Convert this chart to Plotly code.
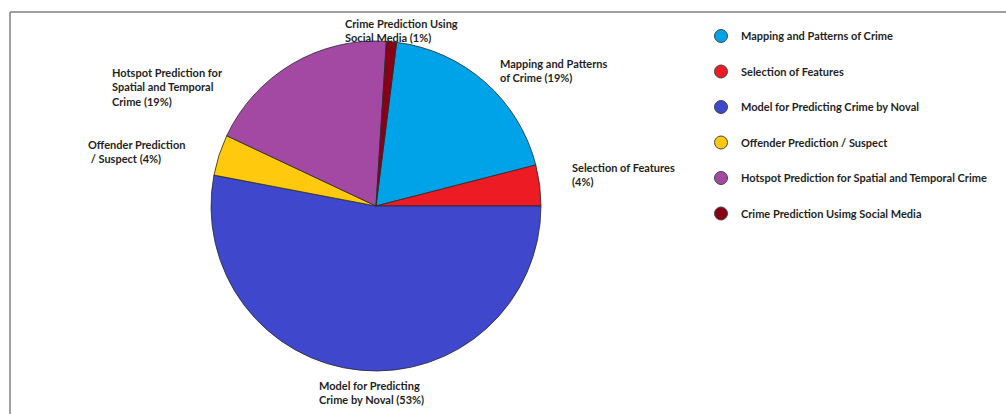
import plotly.graph_objects as go

# ---- data ----
categories = [
    "Mapping and Patterns of Crime",
    "Selection of Features",
    "Model for Predicting Crime by Noval",
    "Offender Prediction / Suspect",
    "Hotspot Prediction for Spatial and Temporal Crime",
    "Crime Prediction Using Social Media",
]
legend_labels = [
    "Mapping and Patterns of Crime",
    "Selection of Features",
    "Model for Predicting Crime by Noval",
    "Offender Prediction / Suspect",
    "Hotspot Prediction for Spatial and Temporal Crime",
    "Crime Prediction Usimg Social Media",
]
slice_labels = [
    "Mapping and Patterns<br>of Crime (19%)",
    "Selection of Features<br>(4%)",
    "Model for Predicting<br>Crime by Noval (53%)",
    "Offender Prediction<br>\u00a0/ Suspect (4%)",
    "Hotspot Prediction for<br>Spatial and Temporal<br>Crime (19%)",
    "Crime Prediction Using<br>Social Media (1%)",
]
values = [19, 4, 53, 4, 19, 1]
colors = ["#00a2e8", "#ed1c24", "#3f48cc", "#ffc90e", "#a349a4", "#880015"]

# label anchor positions in pixels (left, top)
label_pos = [(498, 55), (570, 159), (317, 377), (86, 136), (110, 64), (343, 15)]

W, H = 1006, 414
TEXT = "#1f1f1f"
FONT = "Lato"

fig = go.Figure()

cx, cy, r = 376, 206, 165
fig.add_trace(go.Pie(
    labels=categories,
    values=values,
    sort=False,
    direction="clockwise",
    rotation=7.2,
    marker=dict(colors=colors, line=dict(color="#2a2a2a", width=0.8)),
    textinfo="none",
    hoverinfo="label+percent",
    showlegend=False,
    domain=dict(x=[(cx - r) / W, (cx + r) / W], y=[1 - (cy + r) / H, 1 - (cy - r) / H]),
))

# legend entries with circle symbols
for i, (lab, col) in enumerate(zip(legend_labels, colors)):
    fig.add_trace(go.Scatter(
        x=[None], y=[None], mode="markers", name=lab,
        legendgroup=f"g{i}",
        marker=dict(symbol="circle", size=13, color=col, line=dict(color="#444", width=1)),
    ))

annotations = []
for txt, (px, py) in zip(slice_labels, label_pos):
    annotations.append(dict(
        text=txt, xref="paper", yref="paper", x=px / W, y=1 - py / H,
        xanchor="left", yanchor="top", align="left", showarrow=False,
        font=dict(family=FONT, size=11, color=TEXT, weight="bold"),
    ))

shapes = [
    dict(type="line", xref="paper", yref="paper", x0=10 / W, x1=1, y0=1 - 12 / H, y1=1 - 12 / H,
         line=dict(color="#808080", width=1.5)),
    dict(type="line", xref="paper", yref="paper", x0=10 / W, x1=10 / W, y0=1 - 12 / H, y1=0,
         line=dict(color="#808080", width=1.5)),
]

fig.update_layout(
    width=W, height=H,
    margin=dict(l=0, r=0, t=0, b=0),
    paper_bgcolor="white", plot_bgcolor="white",
    xaxis=dict(visible=False), yaxis=dict(visible=False),
    annotations=annotations,
    shapes=shapes,
    legend=dict(
        x=701 / W, y=1 - 21.5 / H, xanchor="left", yanchor="top",
        font=dict(family=FONT, size=11, color=TEXT, weight="bold"),
        tracegroupgap=16.5, itemsizing="trace", bgcolor="rgba(0,0,0,0)",
    ),
)

fig.write_html("out.html", config={"displayModeBar": False},
               post_script="document.body.style.margin='0';")
